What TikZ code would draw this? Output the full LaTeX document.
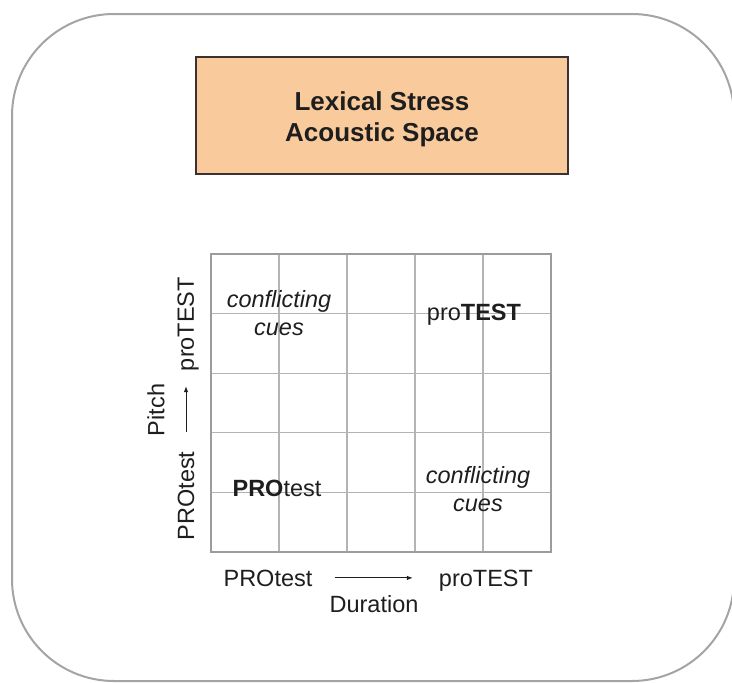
\documentclass[tikz,border=0pt]{standalone}
\usepackage{fontspec}
\setmainfont{Liberation Sans}
\usetikzlibrary{arrows.meta}
\definecolor{peach}{HTML}{F9CB9C}
\definecolor{boxedge}{HTML}{3D3030}
\definecolor{outeredge}{HTML}{A4A4A4}
\definecolor{gridgray}{HTML}{B4B4B4}
\definecolor{framegray}{HTML}{9C9C9C}
\definecolor{ink}{HTML}{1E1E1E}
\tikzset{
  lbl/.style={inner sep=0pt, text=ink, font=\fontsize{23.5}{28}\selectfont},
  celltxt/.style={lbl, align=center, font=\fontsize{23.5}{28}\selectfont\itshape},
  titlebox/.style={draw=boxedge, line width=1.4pt, fill=peach, minimum width=372pt, minimum height=117pt},
  titletxt/.style={inner sep=0pt, align=center, text=ink, font=\fontsize{26}{31}\selectfont\bfseries},
  gridframe/.style={draw=framegray, line width=2.4pt, minimum width=340pt, minimum height=298pt, inner sep=0pt},
  gridline/.style={draw=gridgray, line width=1.2pt},
  axisarrow/.style={draw=ink, line width=0.9pt, -{Latex[length=6pt,width=4.5pt]}}
}
\begin{document}
\begin{tikzpicture}[x=1pt,y=-1pt]
\useasboundingbox (0,0) rectangle (732,683);
% outer rounded frame
\draw[outeredge, line width=2pt, rounded corners=102pt] (12,14) rectangle (734,681);
% title
\node[titlebox] (title) at (382,115.5) {};
\node[titletxt] (titletext) at (382,119.5) {Lexical Stress\\Acoustic Space};
% grid
\foreach \gx in {279,347,415,483} \draw[gridline] (\gx,254) -- (\gx,552);
\foreach \gy in {313.6,373.2,432.8,492.4} \draw[gridline] (211,\gy) -- (551,\gy);
\node[gridframe] (grid) at (381,403) {};
% cell texts
\node[celltxt] (ctl) at (279,313) {conflicting\\cues};
\node[celltxt] (cbr) at (478,489) {conflicting\\cues};
\node[lbl, anchor=base] (ptr) at (474,320) {pro\textbf{TEST}};
\node[lbl, anchor=base] (pbl) at (277,496) {\textbf{PRO}test};
% duration axis
\node[lbl, anchor=base] (dlo) at (268,586) {PROtest};
\node[lbl, anchor=base] (dhi) at (486,586) {proTEST};
\node[lbl, anchor=base] (dur) at (374,612) {Duration};
\draw[axisarrow, shorten <=22pt, shorten >=26pt] (dlo.east) -- (dlo.east -| dhi.west);
% pitch axis
\node[lbl, rotate=90] (plo) at (186,496) {PROtest};
\node[lbl, rotate=90] (phi) at (188,324) {proTEST};
\node[lbl, rotate=90] (pit) at (156,410) {Pitch};
\draw[axisarrow, shorten <=19pt, shorten >=15pt] (plo.east) -- (plo.east |- phi.west);
\end{tikzpicture}
\end{document}
